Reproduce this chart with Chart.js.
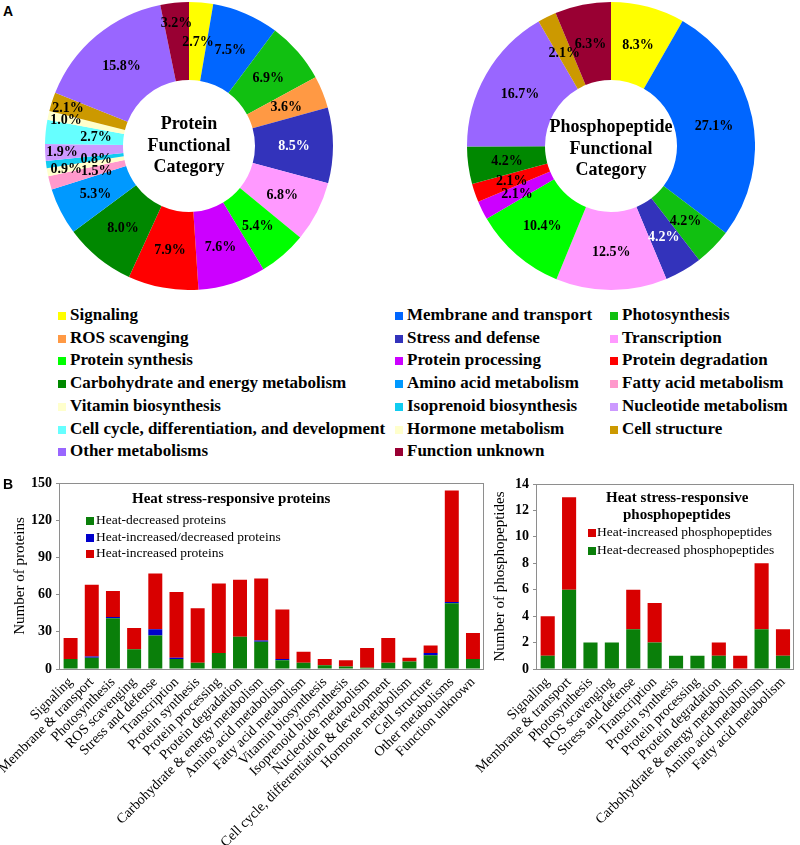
<!DOCTYPE html>
<html><head><meta charset="utf-8">
<script src="https://cdn.jsdelivr.net/npm/chart.js@4/dist/chart.umd.min.js"></script>
<style>
html,body{margin:0;padding:0;background:#fff;}
body{width:800px;height:845px;position:relative;overflow:hidden;font-family:"Liberation Serif","Times New Roman",serif;color:#000;}
.abs{position:absolute;white-space:nowrap;}
canvas{position:absolute;}
</style>
</head><body>
<canvas id="pie1" width="288" height="288" style="left:45px;top:2px;"></canvas>
<canvas id="pie2" width="288" height="288" style="left:467px;top:2px;"></canvas>
<canvas id="bar1" width="490" height="375" style="left:0px;top:470px;"></canvas>
<canvas id="bar2" width="380" height="375" style="left:420px;top:470px;"></canvas>
<script>
// ---------- DATA ----------
const categories = ["Signaling","Membrane and transport","Photosynthesis","ROS scavenging","Stress and defense","Transcription","Protein synthesis","Protein processing","Protein degradation","Carbohydrate and energy metabolism","Amino acid metabolism","Fatty acid metabolism","Vitamin biosynthesis","Isoprenoid biosynthesis","Nucleotide metabolism","Cell cycle, differentiation, and development","Hormone metabolism","Cell structure","Other metabolisms","Function unknown"];
const categoryColors = ["#ffff00","#0066ff","#11c011","#ff9944","#3333bb","#ff99ff","#00ff00","#cc00ff","#ff0000","#008800","#0099ff","#ff99cc","#ffffcc","#11ccf0","#cc99ff","#66ffff","#ffffcc","#cc9900","#9966ff","#990033"];
const proteinPct = [2.7,7.5,6.9,3.6,8.5,6.8,5.4,7.6,7.9,8.0,5.3,1.5,0.9,0.8,1.9,2.7,1.0,2.1,15.8,3.2];
const phosphoPct = [8.3,27.1,4.2,4.2,12.5,10.4,2.1,2.1,4.2,16.7,2.1,6.3];
const phosphoColors = ["#ffff00","#0066ff","#11c011","#3333bb","#ff99ff","#00ff00","#cc00ff","#ff0000","#008800","#9966ff","#cc9900","#990033"];
const proteinBarLabels = ["Signaling","Membrane & transport","Photosynthesis","ROS scavenging","Stress and defense","Transcription","Protein synthesis","Protein processing","Protein degradation","Carbohydrate & energy metabolism","Amino acid metabolism","Fatty acid metabolism","Vitamin biosynthesis","Isoprenoid biosynthesis","Nucleotide metabolism","Cell cycle, differentiation & development","Hormone metabolism","Cell structure","Other metabolisms","Function unknown"];
const proteinDecreased = [8,9,41,16,27,8,5,13,26,22,7,5,3,2,1,5,6,11,53,8];
const proteinBoth      = [0,1,1,0,5,1,0,0,0,1,1,0,0,0,0,0,0,2,1,0];
const proteinIncreased = [17,58,21,17,45,53,44,56,46,50,40,9,5,5,16,20,3,6,90,21];
const phosphoBarLabels = ["Signaling","Membrane & transport","Photosynthesis","ROS scavenging","Stress and defense","Transcription","Protein synthesis","Protein processing","Protein degradation","Carbohydrate & energy metabolism","Amino acid metabolism","Fatty acid metabolism"];
const phosphoIncreased = [3,7,0,0,3,3,0,0,1,1,5,2];
const phosphoDecreased = [1,6,2,2,3,2,1,1,1,0,3,1];
const proteinTicks = [0,30,60,90,120,150];
const phosphoTicks = [0,2,4,6,8,10,12,14];

// ---------- STYLE ----------
const SERIF = '"Liberation Serif","Times New Roman",serif';
const GREEN = '#0a7f0a', BLUE = '#0000cc', RED = '#d80000';

function addText(txt, x, y, css, align){
  const d = document.createElement('div');
  d.className = 'abs';
  d.textContent = txt;
  d.style.cssText += css;
  document.body.appendChild(d);
  const w = d.offsetWidth, h = d.offsetHeight;
  let left = x;
  if (align === 'center') left = x - w/2;
  d.style.left = left + 'px';
  d.style.top = (y - h/2) + 'px';
  return d;
}
function addBox(x, y, s, color){
  const d = document.createElement('div');
  d.className = 'abs';
  d.style.cssText += `left:${x}px;top:${y - s/2}px;width:${s}px;height:${s}px;background:${color};`;
  document.body.appendChild(d);
}

// Panel letters
addText('A', 3, 11, 'font-family:"Liberation Sans",Arial,sans-serif;font-weight:bold;font-size:14px;line-height:16px;');
addText('B', 3, 484, 'font-family:"Liberation Sans",Arial,sans-serif;font-weight:bold;font-size:14px;line-height:16px;');

// Category legend (3 columns)
const legMarkX = [58, 395, 610], legTextX = [70, 407, 622];
categories.forEach((c, i) => {
  const col = i % 3, row = Math.floor(i / 3);
  const y = 315 + row * 22.7;
  addBox(legMarkX[col], y + 1, 8, categoryColors[i]);
  addText(c, legTextX[col], y, `font-family:${SERIF};font-weight:bold;font-size:17px;line-height:20px;`);
});

// ---------- PLUGINS ----------
const pctLabels = {
  id: 'pctLabels',
  afterDatasetsDraw(chart, args, opts) {
    const meta = chart.getDatasetMeta(0);
    const data = chart.data.datasets[0].data;
    const ctx = chart.ctx;
    ctx.save();
    ctx.font = `bold 14px ${SERIF}`;
    ctx.textAlign = 'center';
    ctx.textBaseline = 'middle';
    meta.data.forEach((arc, i) => {
      const p = arc.getProps(['x','y','startAngle','endAngle','innerRadius','outerRadius'], true);
      const mid = (p.startAngle + p.endAngle) / 2;
      const f = (opts.radius && opts.radius[i]) || 1;
      const r = (p.innerRadius + p.outerRadius) / 2 * f;
      ctx.fillStyle = (opts.white || []).includes(i) ? '#fff' : '#000';
      ctx.fillText(data[i].toFixed(1) + '%', p.x + Math.cos(mid) * r, p.y + Math.sin(mid) * r + 1);
    });
    ctx.restore();
  }
};
const centerText = {
  id: 'centerText',
  afterDatasetsDraw(chart, args, opts) {
    const meta = chart.getDatasetMeta(0);
    const arc = meta.data[0];
    const ctx = chart.ctx;
    ctx.save();
    ctx.font = `bold 18px ${SERIF}`;
    ctx.textAlign = 'center';
    ctx.textBaseline = 'middle';
    ctx.fillStyle = '#000';
    (opts.lines || []).forEach((t, i) => {
      ctx.fillText(t, arc.x, arc.y + (opts.dy || 0) + (i - 1) * 21.5);
    });
    ctx.restore();
  }
};
const boxPlugin = {
  id: 'box',
  beforeDatasetsDraw(chart) {
    const {ctx, chartArea: a} = chart;
    ctx.save();
    ctx.strokeStyle = '#8e8e8e';
    ctx.lineWidth = 1;
    ctx.strokeRect(Math.round(a.left) - 0.5, Math.round(a.top) + 0.5, Math.round(a.right - a.left), Math.round(a.bottom - a.top));
    ctx.restore();
  }
};

// ---------- DOUGHNUTS ----------
function doughnut(id, values, colors, labels, opts) {
  return new Chart(document.getElementById(id), {
    type: 'doughnut',
    data: { labels: labels, datasets: [{ data: values, backgroundColor: colors, borderWidth: 0 }] },
    options: {
      responsive: false, animation: false, devicePixelRatio: 1,
      cutout: 66,
      layout: { padding: 0 },
      plugins: { legend: { display: false }, tooltip: { enabled: false },
        pctLabels: opts.labels, centerText: opts.center }
    },
    plugins: [pctLabels, centerText]
  });
}
doughnut('pie1', proteinPct, categoryColors, categories, {
  labels: { white: [4], radius: {11: 0.91, 12: 1.19, 13: 0.89, 14: 1.21, 15: 0.89, 16: 1.2, 17: 1.21, 19: 1.18} },
  center: { lines: ['Protein', 'Functional', 'Category'], dy: 0 }
});
doughnut('pie2', phosphoPct, phosphoColors, phosphoBarLabels, {
  labels: { white: [3], radius: {} },
  center: { lines: ['Phosphopeptide', 'Functional', 'Category'], dy: 3 }
});

// ---------- BAR CHARTS ----------
function barChart(id, labels, datasets, yMax, yStep, ticks, yTitle, yWidth, titlePad, padLeft, padRight, padTop) {
  return new Chart(document.getElementById(id), {
    type: 'bar',
    data: { labels: labels, datasets: datasets },
    options: {
      responsive: false, animation: false, devicePixelRatio: 1,
      layout: { padding: { top: padTop, right: padRight, left: padLeft, bottom: 0 } },
      plugins: { legend: { display: false }, tooltip: { enabled: false } },
      datasets: { bar: { barPercentage: 0.66, categoryPercentage: 1, borderWidth: 0 } },
      scales: {
        x: {
          stacked: true,
          grid: { display: false, drawTicks: false },
          border: { display: false },
          ticks: { minRotation: 45, maxRotation: 45, autoSkip: false, padding: 5,
                   font: { family: SERIF, size: 14 }, color: '#000' },
          afterFit: s => { s.height = 176; }
        },
        y: {
          stacked: true, min: 0, max: yMax,
          afterBuildTicks: s => { s.ticks = ticks.map(v => ({ value: v })); },
          ticks: { stepSize: yStep, padding: 4, font: { family: SERIF, size: 14, weight: 'bold' }, color: '#000' },
          grid: { drawOnChartArea: false, drawTicks: true, tickLength: 4, color: '#8e8e8e' },
          border: { display: false },
          title: { display: true, text: yTitle, color: '#000', font: { family: SERIF, size: 15 }, padding: { top: titlePad, bottom: 0 } },
          afterFit: s => { s.width = yWidth; }
        }
      }
    },
    plugins: [boxPlugin]
  });
}
barChart('bar1', proteinBarLabels, [
  { label: 'Heat-decreased proteins', data: proteinDecreased, backgroundColor: GREEN, stack: 's' },
  { label: 'Heat-increased/decreased proteins', data: proteinBoth, backgroundColor: BLUE, stack: 's' },
  { label: 'Heat-increased proteins', data: proteinIncreased, backgroundColor: RED, stack: 's' }
], 150, 30, proteinTicks, 'Number of proteins', 60, 11, 0, 6, 13);
barChart('bar2', phosphoBarLabels, [
  { label: 'Heat-decreased phosphopeptides', data: phosphoDecreased, backgroundColor: GREEN, stack: 's' },
  { label: 'Heat-increased phosphopeptides', data: phosphoIncreased, backgroundColor: RED, stack: 's' }
], 14, 2, phosphoTicks, 'Number of phosphopeptides', 47, 1, 70, 3, 14);

// Bar chart titles and legends (over the canvases)
addText('Heat stress-responsive proteins', 231, 498, `font-family:${SERIF};font-weight:bold;font-size:15px;line-height:18px;`, 'center');
const barLegL = [['Heat-decreased proteins', GREEN], ['Heat-increased/decreased proteins', BLUE], ['Heat-increased proteins', RED]];
barLegL.forEach((e, i) => {
  const y = 520 + i * 16.5;
  addBox(86, y + 1, 8, e[1]);
  addText(e[0], 96, y, `font-family:${SERIF};font-size:13.5px;line-height:16px;`);
});
addText('Heat stress-responsive', 677, 497, `font-family:${SERIF};font-weight:bold;font-size:15px;line-height:18px;`, 'center');
addText('phosphopeptides', 677, 514, `font-family:${SERIF};font-weight:bold;font-size:15px;line-height:18px;`, 'center');
const barLegR = [['Heat-increased phosphopeptides', RED], ['Heat-decreased phosphopeptides', GREEN]];
barLegR.forEach((e, i) => {
  const y = 532 + i * 17.5;
  addBox(588, y + 1, 8, e[1]);
  addText(e[0], 597, y, `font-family:${SERIF};font-size:13.5px;line-height:16px;`);
});
</script>
</body></html>
